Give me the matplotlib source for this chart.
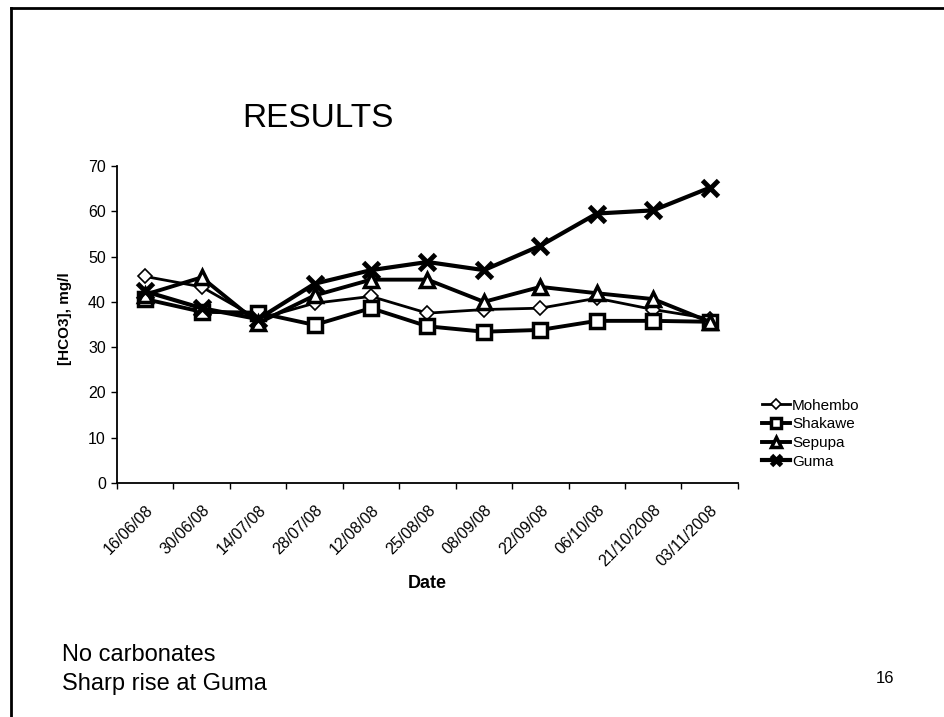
import matplotlib.pyplot as plt
from matplotlib.lines import Line2D

plt.rcParams['font.family'] = ['Liberation Sans', 'DejaVu Sans']

dates = ["16/06/08", "30/06/08", "14/07/08", "28/07/08", "12/08/08", "25/08/08",
         "08/09/08", "22/09/08", "06/10/08", "21/10/2008", "03/11/2008"]
mohembo = [45.6, 43.3, 36.2, 39.7, 41.2, 37.5, 38.3, 38.6, 40.8, 38.3, 36.3]
shakawe = [40.6, 37.8, 37.6, 34.9, 38.6, 34.6, 33.4, 33.8, 35.8, 35.8, 35.6]
sepupa = [41.6, 45.4, 35.3, 41.4, 44.9, 44.9, 40.0, 43.3, 41.9, 40.6, 35.6]
guma = [42.3, 38.6, 36.2, 44.0, 47.0, 48.8, 47.0, 52.4, 59.5, 60.2, 65.2]

fig = plt.figure(figsize=(9.45, 7.17), dpi=100)
ax = fig.add_axes([0.1238, 0.3264, 0.6571, 0.4421])

x = list(range(len(dates)))
ax.plot(x, mohembo, color='black', lw=2, marker='D', ms=7, mfc='white', mec='black', mew=1.2, label='Mohembo')
ax.plot(x, shakawe, color='black', lw=2.8, marker='s', ms=10, mfc='white', mec='black', mew=2.5, label='Shakawe')
ax.plot(x, sepupa, color='black', lw=2.8, marker='^', ms=10, mfc='white', mec='black', mew=2.5, label='Sepupa')
ax.plot(x, guma, color='black', lw=3, marker='x', ms=11, mec='black', mew=3.5, label='Guma')

ax.set_xlim(-0.5, len(dates) - 0.5)
ax.set_ylim(0, 70)
ax.set_yticks(range(0, 71, 10))
ax.set_xticks([i - 0.5 for i in range(len(dates) + 1)])
ax.set_xticklabels([])
ax.set_xticks(x, minor=True)
ax.set_xticklabels(dates, minor=True, rotation=45, ha='right', va='top', rotation_mode='anchor', fontsize=11.5)
ax.tick_params(axis='x', which='minor', length=0, pad=14)
ax.tick_params(axis='x', which='major', length=4, width=1, direction='out')
ax.tick_params(axis='y', length=4, width=1, direction='out', labelsize=11.5, pad=4)

for s in ['top', 'right']:
    ax.spines[s].set_visible(False)
for s in ['left', 'bottom']:
    ax.spines[s].set_linewidth(1.3)

ax.set_ylabel("[HCO3], mg/l", fontsize=11, fontweight='bold')
ax.yaxis.set_label_coords(-0.072, 0.517)
ax.set_xlabel("Date", fontsize=13, fontweight='bold', labelpad=4)

fig.legend(loc='upper left', bbox_to_anchor=(0.792, 0.463), frameon=False, fontsize=11,
           handlelength=1.8, handletextpad=0.15, labelspacing=0.3, markerscale=0.7)

fig.text(0.3365, 0.835, "RESULTS", fontsize=24, ha='center', va='center')
fig.text(0.0656, 1 - 661 / 717, "No carbonates", fontsize=17, ha='left', va='baseline')
fig.text(0.0656, 1 - 690 / 717, "Sharp rise at Guma", fontsize=17, ha='left', va='baseline')
fig.text(0.927, 1 - 683 / 717, "16", fontsize=12, ha='left', va='baseline')

fig.add_artist(Line2D([11 / 945, 1.0], [1 - 8 / 717, 1 - 8 / 717], color='black', lw=2))
fig.add_artist(Line2D([11 / 945, 11 / 945], [0, 1 - 8 / 717], color='black', lw=2))

fig.savefig("out.png", dpi=100)
